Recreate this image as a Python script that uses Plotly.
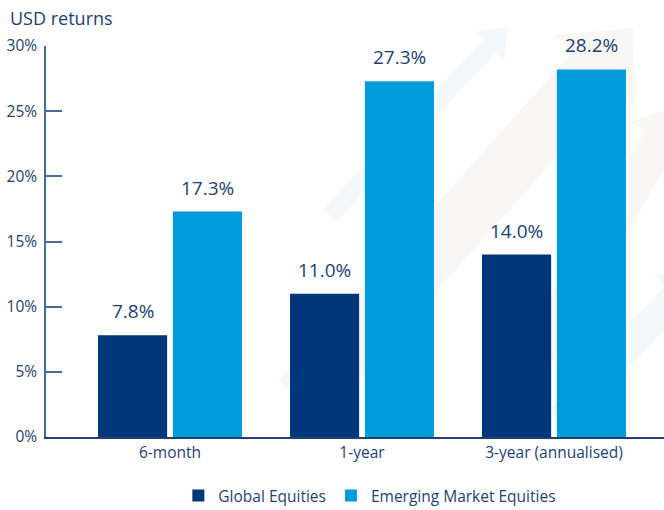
import plotly.graph_objects as go

categories = ["6-month", "1-year", "3-year (annualised)"]
global_eq = [7.8, 11.0, 14.0]
em_eq = [17.3, 27.3, 28.2]
y_ticks = [0, 5, 10, 15, 20, 25, 30]
y_tick_labels = ["0%", "5%", "10%", "15%", "20%", "25%", "30%"]

NAVY = "#1d3f74"
DARK = "#00377a"
LIGHT = "#009bdb"
AXIS = "#4a6a99"
FONT = "Open Sans"

W, H = 664, 510
L, R, T, B = 46, 0, 46, 73
PW, PH = W - L - R, H - T - B


def px(x, y):
    return ((x - L) / PW, (H - B - y) / PH)


def arrow_path(tail, tip, shaft_w, head_w, head_len):
    import math
    dx, dy = tip[0] - tail[0], tip[1] - tail[1]
    d = math.hypot(dx, dy)
    ux, uy = dx / d, dy / d
    nx, ny = -uy, ux
    bx, by = tip[0] - ux * head_len, tip[1] - uy * head_len
    pts = [
        (tail[0] + nx * shaft_w / 2, tail[1] + ny * shaft_w / 2),
        (bx + nx * shaft_w / 2, by + ny * shaft_w / 2),
        (bx + nx * head_w / 2, by + ny * head_w / 2),
        tip,
        (bx - nx * head_w / 2, by - ny * head_w / 2),
        (bx - nx * shaft_w / 2, by - ny * shaft_w / 2),
        (tail[0] - nx * shaft_w / 2, tail[1] - ny * shaft_w / 2),
    ]
    conv = [px(*p) for p in pts]
    return "M " + " L ".join(f"{a:.4f},{b:.4f}" for a, b in conv) + " Z"


deco = [
    ((330, 215), (508, 27), 18, 40, 26, "#f2f8fc"),
    ((300, 400), (633, 28), 58, 108, 58, "#f8f7f6"),
    ((510, 400), (680, 105), 36, 70, 40, "#f8f7f6"),
    ((560, 420), (700, 270), 30, 60, 35, "#f3f8fc"),
]
shapes = [dict(type="path", xref="paper", yref="paper", path=arrow_path(*a[:5]),
               fillcolor=a[5], line=dict(width=0), layer="below") for a in deco]

fig = go.Figure()
fig.add_trace(go.Bar(name="Global Equities", x=categories, y=global_eq,
                     marker=dict(color=DARK, line=dict(width=0))))
fig.add_trace(go.Bar(name="Emerging Market Equities", x=categories, y=em_eq,
                     marker=dict(color=LIGHT, line=dict(width=0))))

annotations = []
for vals, shift in ((global_eq, -37.5), (em_eq, 37.5)):
    for c, v in zip(categories, vals):
        annotations.append(dict(x=c, y=v, xref="x", yref="y", text=f"{v:.1f}%",
                                showarrow=False, xshift=shift, yshift=9,
                                yanchor="bottom", xanchor="center",
                                font=dict(size=19, color=NAVY, family=FONT)))
annotations.append(dict(text="USD returns", xref="paper", yref="paper",
                        x=(8 - L) / PW, y=(H - B - 18) / PH, showarrow=False,
                        xanchor="left", yanchor="middle",
                        font=dict(size=18, color=NAVY, family=FONT)))

fig.update_layout(
    width=W, height=H,
    margin=dict(l=L, r=R, t=T, b=B, autoexpand=False),
    paper_bgcolor="white", plot_bgcolor="rgba(0,0,0,0)",
    barmode="group", bargap=0.22, bargroupgap=0.077,
    font=dict(family=FONT, color=NAVY, size=15),
    showlegend=True,
    legend=dict(orientation="h", x=0.557, xref="container", xanchor="center",
                y=14 / H, yref="container", yanchor="middle",
                font=dict(size=15.5, color=NAVY, family=FONT), traceorder="normal",
                itemwidth=30),
    annotations=annotations,
    shapes=shapes,
)
fig.update_xaxes(range=[-0.646, 2.573], showline=True, linecolor=NAVY, linewidth=1.5,
                 ticks="", tickfont=dict(size=15.5, color=NAVY), showgrid=False,
                 ticklabelstandoff=1)
fig.update_yaxes(range=[0, 30], tickvals=y_ticks, ticktext=y_tick_labels,
                 showline=True, linecolor=AXIS, linewidth=1.5,
                 ticks="inside", ticklen=16, tickcolor=AXIS, tickwidth=1.5,
                 showgrid=False, zeroline=False, tickfont=dict(size=15.5, color=NAVY),
                 ticklabelstandoff=4)

fig.write_html("out.html")
